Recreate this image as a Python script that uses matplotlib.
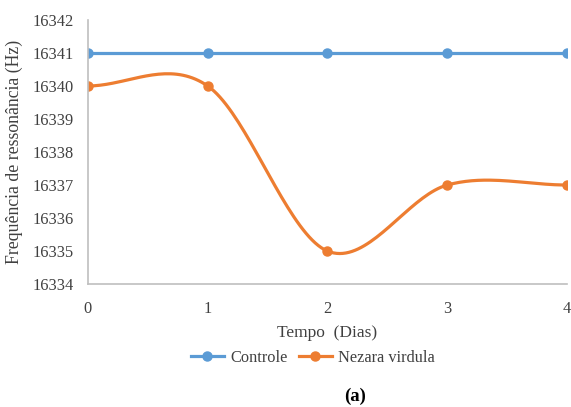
import numpy as np
from matplotlib import pyplot as plt

# Data
dias = [0, 1, 2, 3, 4]
controle = [16341, 16341, 16341, 16341, 16341]
nezara = [16340, 16340, 16335, 16337, 16337]


def smooth(x, y, n=40):
    # Catmull-Rom style curve through the points (like Excel's smoothed line)
    x = np.asarray(x, float)
    y = np.asarray(y, float)
    m = np.zeros_like(y)
    m[1:-1] = (y[2:] - y[:-2]) / 2
    m[0] = (y[1] - y[0]) / 2
    m[-1] = (y[-1] - y[-2]) / 2
    xs, ys = [], []
    for i in range(len(x) - 1):
        t = np.linspace(0, 1, n)
        h00 = 2 * t**3 - 3 * t**2 + 1
        h10 = t**3 - 2 * t**2 + t
        h01 = -2 * t**3 + 3 * t**2
        h11 = t**3 - t**2
        xs.append(x[i] + t * (x[i + 1] - x[i]))
        ys.append(h00 * y[i] + h10 * m[i] + h01 * y[i + 1] + h11 * m[i + 1])
    return np.concatenate(xs), np.concatenate(ys)


plt.rcParams['font.family'] = ['Liberation Serif', 'DejaVu Serif']

blue = '#5B9BD5'
orange = '#ED7D31'

fig = plt.figure(figsize=(5.71, 4.07), dpi=100)
ax = fig.add_axes([0.154, 0.302, 0.839, 0.649])

ax.plot(dias, controle, color=blue, lw=2.3, marker='o', ms=6.5, label='Controle')
sx, sy = smooth(dias, nezara)
ax.plot(sx, sy, color=orange, lw=2.3)
ax.plot(dias, nezara, color=orange, lw=0, marker='o', ms=6.5)
ax.plot([], [], color=orange, lw=2.3, marker='o', ms=6.5, label='Nezara virdula')

ax.set_xlim(0, 4)
ax.set_ylim(16334, 16342)
ax.set_xticks(dias)
ax.set_yticks(range(16334, 16343))
ax.get_yaxis().get_major_formatter().set_useOffset(False)
ax.tick_params(axis='both', length=0, labelsize=11.8, colors='#404040')
ax.tick_params(axis='y', pad=10)
ax.tick_params(axis='x', pad=12)
for s in ['top', 'right']:
    ax.spines[s].set_visible(False)
for s in ['left', 'bottom']:
    ax.spines[s].set_color('#BFBFBF')
    ax.spines[s].set_linewidth(1.2)

ax.set_xlabel('Tempo  (Dias)', fontsize=12.5, color='#404040', labelpad=6)
ax.set_ylabel('Frequência de ressonância (Hz)', fontsize=12.8, color='#404040', labelpad=7)

fig.legend(loc='center', bbox_to_anchor=(0.548, 0.12), ncol=2, frameon=False,
           fontsize=11.8, handlelength=2.0, columnspacing=0.7, handletextpad=0.4,
           labelcolor='#404040')

fig.text(0.622, 0.015, '(a)', fontsize=13.5, fontweight='bold', ha='center')

plt.savefig('out.png', dpi=100)
plt.close()
